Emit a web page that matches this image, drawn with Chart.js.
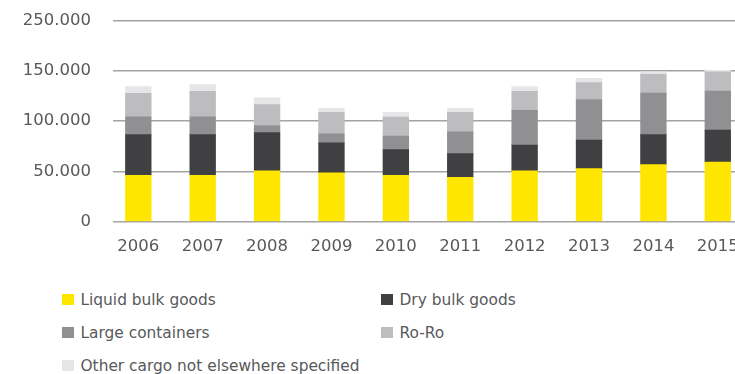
<!DOCTYPE html>
<html lang="en">
<head>
    <meta charset="UTF-8">
    <title>Cargo handling</title>
    <style>
        body { margin: 0; width: 735px; height: 374px; overflow: hidden; background: #fff; font-family: "DejaVu Sans", sans-serif; position: relative; }
        .wrap { position: absolute; left: 0; top: 0; width: 740px; height: 260px; }
        .legende {
            position: absolute; left: 62px; top: 291px;
            display: grid; grid-template-columns: 319px 300px; grid-auto-rows: 33px;
            font-size: 15.4px; color: #58595b;
        }
        .legende div { display: flex; align-items: center; height: 17px; white-space: nowrap; }
        .legende span { display: inline-block; width: 12px; height: 11px; margin-right: 6.5px; }
    </style>
</head>
<body>
    <div class="wrap">
        <canvas id="cargo-chart" width="740" height="260"></canvas>
    </div>
    <div class="legende" id="legende"></div>

    <script src="https://cdn.jsdelivr.net/npm/chart.js"></script>
    <script>
        const years = [2006, 2007, 2008, 2009, 2010, 2011, 2012, 2013, 2014, 2015];
        const yTickLabels = ['0', '50.000', '100.000', '150.000', '250.000'];

        const liquidBulk = [46200, 46200, 50500, 48500, 46200, 44200, 50500, 52800, 56800, 59200];
        const dryBulk = [40400, 40400, 38100, 29900, 25500, 23500, 25600, 28300, 29800, 31800];
        const largeContainers = [17700, 17700, 7000, 9000, 13400, 21600, 34500, 40400, 41300, 38900];
        const roRo = [23200, 25200, 20900, 21200, 18900, 19300, 18900, 16900, 18500, 19200];
        const otherCargo = [6700, 6700, 6700, 4000, 4600, 4000, 4700, 4000, 2700, 1400];

        const series = [
            { label: 'Liquid bulk goods', data: liquidBulk, color: '#ffe600' },
            { label: 'Dry bulk goods', data: dryBulk, color: '#404042' },
            { label: 'Large containers', data: largeContainers, color: '#909093' },
            { label: 'Ro-Ro', data: roRo, color: '#bdbdbf' },
            { label: 'Other cargo not elsewhere specified', data: otherCargo, color: '#e6e6e8' }
        ];

        const ctx = document.getElementById('cargo-chart').getContext('2d');
        const chart = new Chart(ctx, {
            type: 'bar',
            data: {
                labels: years,
                datasets: series.map(s => ({
                    label: s.label,
                    data: s.data,
                    backgroundColor: s.color,
                    borderWidth: 0,
                    barThickness: 25.7
                }))
            },
            options: {
                responsive: false,
                animation: false,
                layout: { padding: { top: 20.5, right: 0, bottom: 3.5, left: 0 } },
                plugins: {
                    legend: { display: false },
                    tooltip: { enabled: false }
                },
                scales: {
                    x: {
                        type: 'linear',
                        stacked: true,
                        offset: false,
                        min: 2005.607,
                        max: 2015.345,
                        grid: { display: true, drawOnChartArea: false, color: 'rgba(0,0,0,0)', tickLength: 15 },
                        border: { display: false },
                        ticks: {
                            stepSize: 1,
                            includeBounds: false,
                            autoSkip: false,
                            maxRotation: 0,
                            padding: 0,
                            color: '#58595b',
                            font: { family: 'DejaVu Sans', size: 16.5 },
                            callback: v => String(v)
                        }
                    },
                    y: {
                        stacked: true,
                        min: 0,
                        max: 200000,
                        afterFit: scale => { scale.width = 113; },
                        grid: { color: '#a3a3a3', lineWidth: 1.4, drawTicks: true, tickLength: 22, tickColor: 'rgba(0,0,0,0)' },
                        border: { display: false },
                        ticks: {
                            stepSize: 50000,
                            padding: 0,
                            color: '#58595b',
                            font: { family: 'DejaVu Sans', size: 16.5 },
                            callback: (v, i) => yTickLabels[i]
                        }
                    }
                }
            }
        });

        // legende en grille, comme dans l'original
        const legende = document.getElementById('legende');
        chart.data.datasets.forEach(ds => {
            const item = document.createElement('div');
            item.innerHTML = `<span style="background:${ds.backgroundColor}"></span>${ds.label}`;
            legende.appendChild(item);
        });
    </script>
</body>
</html>
